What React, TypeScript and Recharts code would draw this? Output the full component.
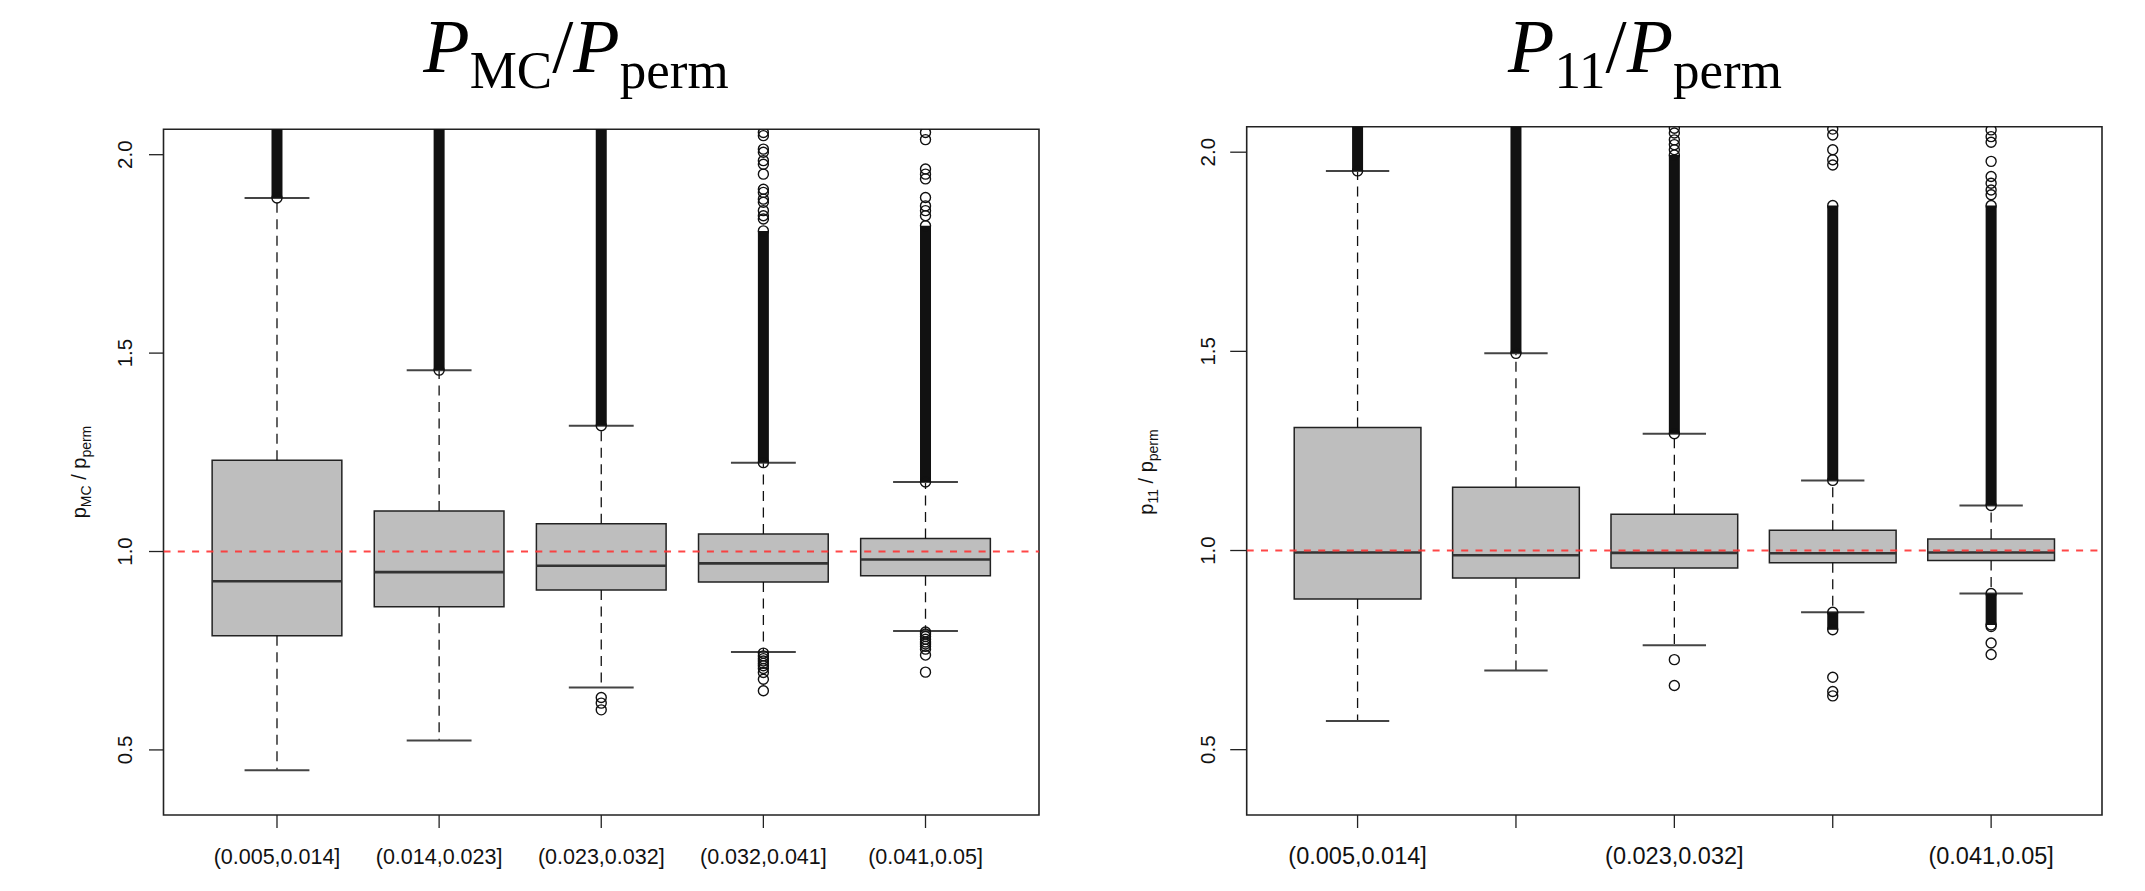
import React from "react";
import { ComposedChart, XAxis, YAxis, Scatter, ReferenceArea, ReferenceLine } from "recharts";

// ---------- shared ----------
const categories = ["(0.005,0.014]", "(0.014,0.023]", "(0.023,0.032]", "(0.032,0.041]", "(0.041,0.05]"];
const rightShownLabels = ["(0.005,0.014]", "", "(0.023,0.032]", "", "(0.041,0.05]"];
const positions = [1, 2, 3, 4, 5];
const yTicks = [0.5, 1.0, 1.5, 2.0];
const yDomain: [number, number] = [0.336, 2.064];
const xDomain: [number, number] = [0.3, 5.7];
const referenceValue = 1.0;

// ---------- panel 1 : P_MC / P_perm ----------
const mcLowerWhisker = [0.449, 0.524, 0.657, 0.747, 0.8];
const mcQ1 = [0.788, 0.861, 0.903, 0.923, 0.939];
const mcMedian = [0.925, 0.948, 0.964, 0.97, 0.98];
const mcQ3 = [1.23, 1.102, 1.07, 1.044, 1.033];
const mcUpperWhisker = [1.891, 1.457, 1.317, 1.224, 1.175];
// runs of overlapping outlier circles (from, to)
const mcDenseUpper: ([number, number] | null)[] = [
  [1.891, 2.064],
  [1.457, 2.064],
  [1.317, 2.064],
  [1.224, 1.808],
  [1.175, 1.821],
];
const mcDenseLower: ([number, number] | null)[] = [null, null, null, null, null];
const mcOutliers: number[][] = [
  [],
  [],
  [0.632, 0.618, 0.601],
  [0.744, 0.737, 0.73, 0.724, 0.718, 0.712, 0.705, 0.695, 0.678, 0.649,
   2.056, 2.048, 2.014, 2.006, 1.985, 1.976, 1.951, 1.913, 1.905, 1.888, 1.88, 1.859, 1.846, 1.838],
  [0.797, 0.792, 0.786, 0.779, 0.772, 0.767, 0.761, 0.754, 0.739, 0.696,
   2.056, 2.038, 1.964, 1.951, 1.939, 1.892, 1.871, 1.859, 1.846],
];

// ---------- panel 2 : P_11 / P_perm ----------
const p11LowerWhisker = [0.572, 0.699, 0.762, 0.845, 0.892];
const p11Q1 = [0.878, 0.931, 0.956, 0.969, 0.975];
const p11Median = [0.995, 0.988, 0.994, 0.993, 0.995];
const p11Q3 = [1.309, 1.159, 1.091, 1.051, 1.029];
const p11UpperWhisker = [1.953, 1.495, 1.293, 1.176, 1.113];
const p11DenseUpper: ([number, number] | null)[] = [
  [1.953, 2.064],
  [1.495, 2.064],
  [1.293, 1.993],
  [1.176, 1.866],
  [1.113, 1.866],
];
const p11DenseLower: ([number, number] | null)[] = [null, null, null, [0.801, 0.845], [0.813, 0.892]];
const p11Outliers: number[][] = [
  [],
  [],
  [0.726, 0.661, 2.06, 2.048, 2.031, 2.019, 2.006],
  [0.682, 0.646, 0.635, 2.058, 2.043, 2.006, 1.981, 1.968],
  [0.809, 0.768, 0.739, 2.056, 2.039, 2.025, 1.977, 1.939, 1.922, 1.905, 1.893],
];

const SANS = "'Liberation Sans', Arial, Helvetica, sans-serif";
const SERIF = "'Liberation Serif', 'Times New Roman', serif";

function XTick(props: any) {
  const { x, y, payload, labels, fontSize } = props;
  const idx = positions.indexOf(payload.value);
  const label = labels[idx];
  if (!label) return <g />;
  return (
    <text x={x} y={y + 35.5} textAnchor="middle" fontSize={fontSize} fontFamily={SANS} fill="#111">
      {label}
    </text>
  );
}

function YTick(props: any) {
  const { x, y, payload, gap, fontSize } = props;
  const bx = x - gap;
  return (
    <text
      x={bx}
      y={y}
      transform={`rotate(-90, ${bx}, ${y})`}
      textAnchor="middle"
      fontSize={fontSize}
      fontFamily={SANS}
      fill="#111"
    >
      {Number(payload.value).toFixed(1)}
    </text>
  );
}

const Ring = (p: any) => (
  <circle cx={p.cx} cy={p.cy} r={5} fill="none" stroke="#111" strokeWidth={1.4} />
);

function BoxPanel(props: any) {
  const {
    left, width, height, margin, yAxisWidth, yTickSize, xTickSize,
    lo, q1, med, q3, hi, denseUpper, denseLower, outliers,
    xLabels, xFont, yFont, yGap,
  } = props;

  const scatterData: { x: number; y: number }[] = [];
  positions.forEach((p, i) => {
    outliers[i].forEach((v: number) => scatterData.push({ x: p, y: v }));
    [denseUpper[i], denseLower[i]].forEach((r: any) => {
      if (r) {
        scatterData.push({ x: p, y: r[0] });
        if (r[1] < 2.05) scatterData.push({ x: p, y: r[1] });
      }
    });
  });

  return (
    <div style={{ position: "absolute", left, top: 0 }}>
      <ComposedChart width={width} height={height} margin={margin}>
        <XAxis
          type="number"
          dataKey="x"
          domain={xDomain}
          ticks={positions}
          allowDataOverflow
          axisLine={false}
          tickSize={xTickSize}
          tickMargin={0}
          height={50}
          interval={0}
          tickLine={{ stroke: "#222", strokeWidth: 1.3 }}
          tick={<XTick labels={xLabels} fontSize={xFont} />}
        />
        <YAxis
          type="number"
          dataKey="y"
          domain={yDomain}
          ticks={yTicks}
          allowDataOverflow
          axisLine={false}
          tickSize={yTickSize}
          tickMargin={0}
          width={yAxisWidth}
          interval={0}
          tickLine={{ stroke: "#222", strokeWidth: 1.3 }}
          tick={<YTick gap={yGap} fontSize={yFont} />}
        />
        {positions.map((p, i) => (
          <ReferenceArea
            key={"box" + i}
            x1={p - 0.4}
            x2={p + 0.4}
            y1={q1[i]}
            y2={q3[i]}
            fill="#BEBEBE"
            fillOpacity={1}
            stroke="#222"
            strokeWidth={1.5}
            ifOverflow="visible"
          />
        ))}
        {positions.map((p, i) => (
          <ReferenceLine
            key={"wu" + i}
            segment={[{ x: p, y: q3[i] }, { x: p, y: hi[i] }]}
            stroke="#111"
            strokeWidth={1.3}
            strokeDasharray="10 6.5"
            ifOverflow="visible"
          />
        ))}
        {positions.map((p, i) => (
          <ReferenceLine
            key={"wl" + i}
            segment={[{ x: p, y: q1[i] }, { x: p, y: lo[i] }]}
            stroke="#111"
            strokeWidth={1.3}
            strokeDasharray="10 6.5"
            ifOverflow="visible"
          />
        ))}
        {positions.map((p, i) => (
          <ReferenceLine
            key={"cu" + i}
            segment={[{ x: p - 0.2, y: hi[i] }, { x: p + 0.2, y: hi[i] }]}
            stroke="#444"
            strokeWidth={2}
            ifOverflow="visible"
          />
        ))}
        {positions.map((p, i) => (
          <ReferenceLine
            key={"cl" + i}
            segment={[{ x: p - 0.2, y: lo[i] }, { x: p + 0.2, y: lo[i] }]}
            stroke="#444"
            strokeWidth={2}
            ifOverflow="visible"
          />
        ))}
        {positions.map((p, i) => (
          <ReferenceLine
            key={"md" + i}
            segment={[{ x: p - 0.4, y: med[i] }, { x: p + 0.4, y: med[i] }]}
            stroke="#333"
            strokeWidth={2.6}
            ifOverflow="visible"
          />
        ))}
        {positions.map((p, i) =>
          denseUpper[i] ? (
            <ReferenceLine
              key={"du" + i}
              segment={[{ x: p, y: denseUpper[i][0] }, { x: p, y: denseUpper[i][1] }]}
              stroke="#111"
              strokeWidth={11}
              ifOverflow="visible"
            />
          ) : null
        )}
        {positions.map((p, i) =>
          denseLower[i] ? (
            <ReferenceLine
              key={"dl" + i}
              segment={[{ x: p, y: denseLower[i][0] }, { x: p, y: denseLower[i][1] }]}
              stroke="#111"
              strokeWidth={11}
              ifOverflow="visible"
            />
          ) : null
        )}
        <Scatter data={scatterData} dataKey="y" shape={Ring} isAnimationActive={false} />
        <ReferenceLine
          y={referenceValue}
          stroke="#ff3333"
          strokeWidth={2}
          strokeDasharray="7 7.3"
          strokeOpacity={0.9}
        />
        <ReferenceArea
          x1={xDomain[0]}
          x2={xDomain[1]}
          y1={yDomain[0]}
          y2={yDomain[1]}
          fill="none"
          fillOpacity={0}
          stroke="#222"
          strokeWidth={1.6}
          ifOverflow="visible"
        />
      </ComposedChart>
    </div>
  );
}

export default function App() {
  return (
    <div
      style={{
        position: "absolute",
        left: 0,
        top: 0,
        width: 2145,
        height: 891,
        background: "#fff",
        overflow: "hidden",
      }}
    >
      <BoxPanel
        left={0}
        width={1080}
        height={891}
        margin={{ top: 129.3, bottom: 26, left: 103.5, right: 41 }}
        yAxisWidth={60}
        yTickSize={14.5}
        xTickSize={13}
        lo={mcLowerWhisker}
        q1={mcQ1}
        med={mcMedian}
        q3={mcQ3}
        hi={mcUpperWhisker}
        denseUpper={mcDenseUpper}
        denseLower={mcDenseLower}
        outliers={mcOutliers}
        xLabels={categories}
        xFont={21.5}
        yFont={20.5}
        yGap={16.5}
      />
      <BoxPanel
        left={1080}
        width={1065}
        height={891}
        margin={{ top: 126.7, bottom: 26, left: 106.7, right: 43 }}
        yAxisWidth={60}
        yTickSize={16.5}
        xTickSize={13}
        lo={p11LowerWhisker}
        q1={p11Q1}
        med={p11Median}
        q3={p11Q3}
        hi={p11UpperWhisker}
        denseUpper={p11DenseUpper}
        denseLower={p11DenseLower}
        outliers={p11Outliers}
        xLabels={rightShownLabels}
        xFont={23.5}
        yFont={20.5}
        yGap={15.5}
      />
      <svg
        width={2145}
        height={891}
        style={{ position: "absolute", left: 0, top: 0, pointerEvents: "none" }}
      >
        <text x={576} y={71.7} textAnchor="middle" fontFamily={SERIF} fontSize={76} fill="#000">
          <tspan fontStyle="italic">P</tspan>
          <tspan fontSize={53} dy={16.5}>MC</tspan>
          <tspan dy={-16.5}>/</tspan>
          <tspan fontStyle="italic">P</tspan>
          <tspan fontSize={53} dy={16.5}>perm</tspan>
        </text>
        <text x={1645} y={71.7} textAnchor="middle" fontFamily={SERIF} fontSize={76} fill="#000">
          <tspan fontStyle="italic">P</tspan>
          <tspan fontSize={53} dy={16.5}>11</tspan>
          <tspan dy={-16.5}>/</tspan>
          <tspan fontStyle="italic">P</tspan>
          <tspan fontSize={53} dy={16.5}>perm</tspan>
        </text>
        <text
          x={86}
          y={472}
          transform="rotate(-90, 86, 472)"
          textAnchor="middle"
          fontFamily={SANS}
          fontSize={20}
          fill="#111"
        >
          <tspan>p</tspan>
          <tspan fontSize={14} dy={5}>MC</tspan>
          <tspan dy={-5}>{"\u00A0/\u00A0"}</tspan>
          <tspan>p</tspan>
          <tspan fontSize={14} dy={5}>perm</tspan>
        </text>
        <text
          x={1153}
          y={472}
          transform="rotate(-90, 1153, 472)"
          textAnchor="middle"
          fontFamily={SANS}
          fontSize={20}
          fill="#111"
        >
          <tspan>p</tspan>
          <tspan fontSize={14} dy={5}>11</tspan>
          <tspan dy={-5}>{"\u00A0/\u00A0"}</tspan>
          <tspan>p</tspan>
          <tspan fontSize={14} dy={5}>perm</tspan>
        </text>
      </svg>
    </div>
  );
}
